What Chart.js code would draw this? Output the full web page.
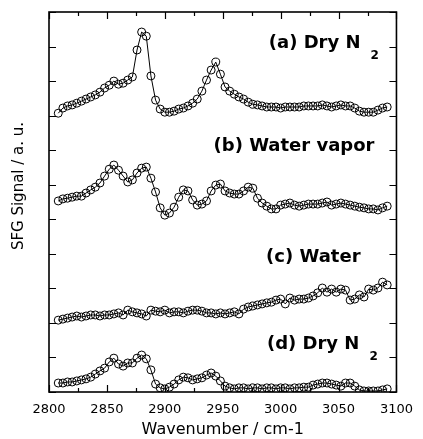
<!DOCTYPE html>
<html>
<head>
<meta charset="utf-8">
<script src="https://cdn.jsdelivr.net/npm/chart.js@4/dist/chart.umd.min.js"></script>
<style>
  html, body { margin: 0; padding: 0; background: #fff; }
  #wrap { width: 423px; height: 439px; }
</style>
</head>
<body>
<div id="wrap"><canvas id="sfgChart" width="423" height="439"></canvas></div>
<script>
// wavenumbers (cm-1) shared by the four spectra
const wavenumbers = [2808, 2812, 2816, 2820, 2824, 2828, 2832, 2836, 2840, 2844,
    2848, 2852, 2856, 2860, 2864, 2868, 2872, 2876, 2880, 2884,
    2888, 2892, 2896, 2900, 2904, 2908, 2912, 2916, 2920, 2924,
    2928, 2932, 2936, 2940, 2944, 2948, 2952, 2956, 2960, 2964,
    2968, 2972, 2976, 2980, 2984, 2988, 2992, 2996, 3000, 3004,
    3008, 3012, 3016, 3020, 3024, 3028, 3032, 3036, 3040, 3044,
    3048, 3052, 3056, 3060, 3064, 3068, 3072, 3076, 3080, 3084,
    3088, 3092];

// SFG signal, already offset for stacking (a.u.)
const dryN2A = [8.07, 8.22, 8.28, 8.31, 8.36, 8.42, 8.48, 8.54, 8.60, 8.68,
    8.80, 8.88, 9.00, 8.91, 8.94, 9.03, 9.12, 9.90, 10.42, 10.30,
    9.15, 8.45, 8.19, 8.10, 8.10, 8.13, 8.19, 8.22, 8.28, 8.36,
    8.48, 8.71, 9.03, 9.32, 9.55, 9.20, 8.83, 8.71, 8.62, 8.54,
    8.48, 8.39, 8.33, 8.31, 8.28, 8.25, 8.25, 8.25, 8.22, 8.25,
    8.25, 8.25, 8.25, 8.28, 8.28, 8.28, 8.28, 8.31, 8.28, 8.25,
    8.28, 8.31, 8.28, 8.28, 8.22, 8.13, 8.10, 8.10, 8.10, 8.16,
    8.22, 8.25];

const waterVaporB = [5.53, 5.59, 5.61, 5.64, 5.67, 5.67, 5.76, 5.85, 5.93, 6.05,
    6.25, 6.45, 6.57, 6.42, 6.25, 6.08, 6.14, 6.34, 6.48, 6.51,
    6.19, 5.79, 5.33, 5.12, 5.18, 5.35, 5.64, 5.85, 5.82, 5.56,
    5.41, 5.44, 5.53, 5.82, 5.99, 6.02, 5.82, 5.76, 5.73, 5.73,
    5.82, 5.93, 5.90, 5.61, 5.47, 5.38, 5.30, 5.30, 5.41, 5.44,
    5.47, 5.41, 5.38, 5.41, 5.44, 5.44, 5.44, 5.47, 5.50, 5.41,
    5.44, 5.47, 5.44, 5.41, 5.38, 5.35, 5.33, 5.30, 5.30, 5.27,
    5.33, 5.38];

const waterC = [2.08, 2.11, 2.14, 2.17, 2.20, 2.17, 2.20, 2.23, 2.23, 2.20,
    2.23, 2.23, 2.26, 2.29, 2.23, 2.37, 2.32, 2.29, 2.26, 2.20,
    2.37, 2.34, 2.32, 2.37, 2.29, 2.32, 2.32, 2.29, 2.34, 2.37,
    2.37, 2.34, 2.29, 2.29, 2.26, 2.29, 2.26, 2.29, 2.32, 2.26,
    2.40, 2.46, 2.49, 2.52, 2.55, 2.58, 2.60, 2.66, 2.69, 2.55,
    2.72, 2.66, 2.69, 2.69, 2.72, 2.78, 2.87, 3.01, 2.89, 2.98,
    2.89, 2.98, 2.95, 2.66, 2.69, 2.81, 2.75, 2.98, 2.95, 3.01,
    3.18, 3.10];

const dryN2D = [0.26, 0.26, 0.29, 0.29, 0.32, 0.35, 0.38, 0.43, 0.52, 0.61,
    0.69, 0.87, 0.98, 0.81, 0.75, 0.84, 0.84, 0.98, 1.07, 0.96,
    0.64, 0.23, 0.12, 0.09, 0.14, 0.23, 0.35, 0.43, 0.41, 0.35,
    0.38, 0.41, 0.49, 0.55, 0.46, 0.32, 0.17, 0.12, 0.09, 0.12,
    0.12, 0.09, 0.12, 0.12, 0.09, 0.12, 0.12, 0.09, 0.12, 0.12,
    0.09, 0.12, 0.12, 0.14, 0.14, 0.20, 0.23, 0.26, 0.26, 0.23,
    0.20, 0.17, 0.26, 0.26, 0.17, 0.06, 0.03, 0.03, 0.03, 0.03,
    0.06, 0.09];

const panelNames = ["(a) Dry N", "(b) Water vapor", "(c) Water", "(d) Dry N"];
const panelSubs = ["2", "", "", "2"];
// label anchors in data units (right edge, vertical centre)
const panelX = [3069, 3081, 3069, 3068];
const panelY = [10.1, 7.12, 3.91, 1.39];

const xTitle = "Wavenumber / cm-1";
const yTitle = "SFG Signal / a. u.";

function toPoints(ys) {
    return wavenumbers.map((x, i) => ({ x: x, y: ys[i] }));
}

function makeSet(label, ys) {
    return {
        label: label,
        data: toPoints(ys),
        borderColor: "#000",
        borderWidth: 1,
        backgroundColor: "rgba(0,0,0,0)",
        pointStyle: "circle",
        pointRadius: 4,
        pointBorderWidth: 1,
        pointBorderColor: "#000",
        pointBackgroundColor: "rgba(0,0,0,0)",
        tension: 0,
        fill: false
    };
}

const framePlugin = {
    id: "frame",
    afterDraw(chart) {
        const ctx = chart.ctx;
        const a = chart.chartArea;
        const xs = chart.scales.x;
        const ys = chart.scales.y;
        ctx.save();
        ctx.strokeStyle = "#000";
        ctx.lineWidth = 1.6;
        ctx.strokeRect(a.left, a.top, a.right - a.left, a.bottom - a.top);

        ctx.lineWidth = 1.2;
        ctx.beginPath();
        xs.ticks.forEach(t => {
            const px = Math.round(xs.getPixelForValue(t.value)) + 0.5;
            const len = t.value % 50 === 0 ? 7 : 4;
            ctx.moveTo(px, a.bottom);
            ctx.lineTo(px, a.bottom - len);
            ctx.moveTo(px, a.top);
            ctx.lineTo(px, a.top + len);
        });
        ys.ticks.forEach(t => {
            const py = Math.round(ys.getPixelForValue(t.value)) + 0.5;
            ctx.moveTo(a.left, py);
            ctx.lineTo(a.left + 7, py);
            ctx.moveTo(a.right, py);
            ctx.lineTo(a.right - 7, py);
        });
        ctx.stroke();

        // y title
        ctx.fillStyle = "#000";
        ctx.font = "15px 'DejaVu Sans'";
        ctx.textAlign = "center";
        ctx.textBaseline = "middle";
        ctx.translate(19, 186);
        ctx.rotate(-Math.PI / 2);
        ctx.fillText(yTitle, 0, 0);
        ctx.restore();

        // panel labels
        ctx.save();
        ctx.fillStyle = "#000";
        ctx.textBaseline = "middle";
        panelNames.forEach((name, i) => {
            const px = xs.getPixelForValue(panelX[i]);
            const py = ys.getPixelForValue(panelY[i]);
            ctx.font = "bold 18px 'DejaVu Sans'";
            ctx.textAlign = "right";
            ctx.fillText(name, px, py);
            if (panelSubs[i]) {
                ctx.font = "bold 12px 'DejaVu Sans'";
                ctx.textAlign = "left";
                ctx.fillText(panelSubs[i], px + 10, py + 13);
            }
        });
        ctx.restore();
    }
};

document.addEventListener("DOMContentLoaded", () => {
    const ctx = document.getElementById("sfgChart").getContext("2d");
    new Chart(ctx, {
        type: "line",
        data: {
            datasets: [
                makeSet("(a) Dry N2", dryN2A),
                makeSet("(b) Water vapor", waterVaporB),
                makeSet("(c) Water", waterC),
                makeSet("(d) Dry N2", dryN2D)
            ]
        },
        options: {
            responsive: false,
            animation: false,
            layout: { padding: { top: 12, right: 18, left: 0, bottom: 0 } },
            plugins: {
                legend: { display: false },
                tooltip: { enabled: false }
            },
            scales: {
                x: {
                    type: "linear",
                    min: 2800,
                    max: 3100,
                    border: { display: false },
                    grid: { display: false, drawTicks: false },
                    ticks: {
                        stepSize: 25,
                        autoSkip: false,
                        maxRotation: 0,
                        padding: 10,
                        color: "#000",
                        font: { family: "'DejaVu Sans'", size: 13 },
                        callback: v => (v % 50 === 0 ? String(v) : "")
                    },
                    title: {
                        display: true,
                        text: xTitle,
                        color: "#000",
                        font: { family: "'DejaVu Sans'", size: 16 },
                        padding: { top: 0, bottom: 0 }
                    },
                    afterFit: s => { s.height = 47; }
                },
                y: {
                    min: 0,
                    max: 11,
                    border: { display: false },
                    grid: { display: false, drawTicks: false },
                    ticks: { stepSize: 1, display: false },
                    afterFit: s => { s.width = 49; }
                }
            }
        },
        plugins: [framePlugin]
    });
});
</script>
</body>
</html>
